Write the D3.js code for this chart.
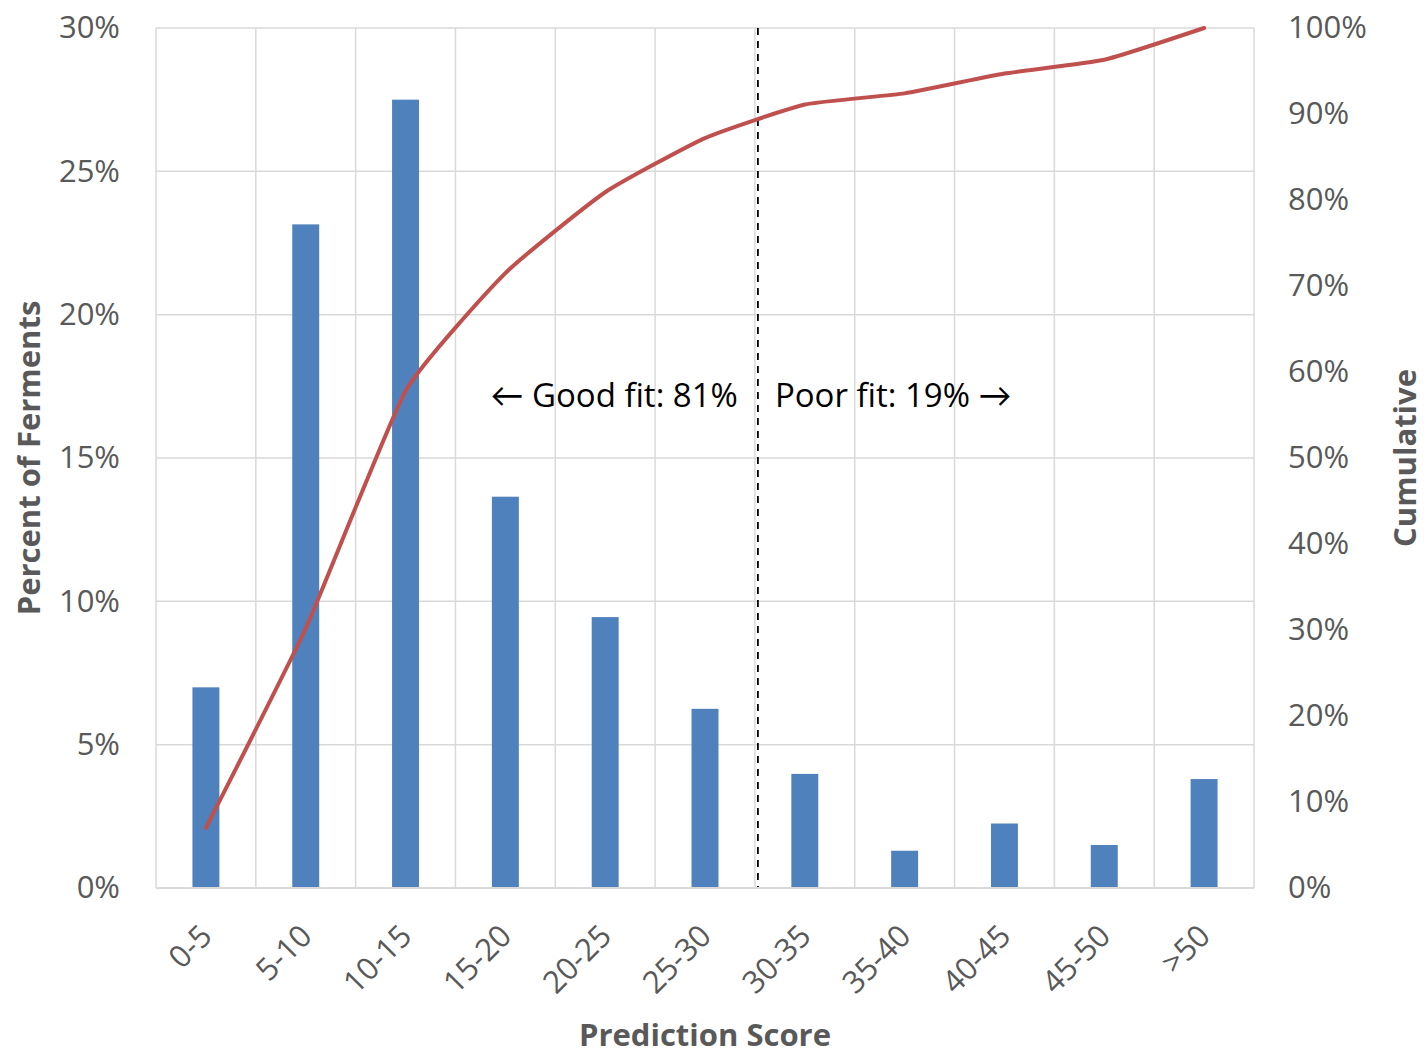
<!DOCTYPE html>
<html><head><meta charset="utf-8">
<script src="https://cdn.jsdelivr.net/npm/d3@7"></script>
<style>
body{margin:0;background:#fff}
text{font-family:"Open Sans",Lato,sans-serif}
</style>
</head><body>
<svg id="chart" width="1424" height="1054"></svg>
<script>
const categories = ["0-5","5-10","10-15","15-20","20-25","25-30","30-35","35-40","40-45","45-50",">50"];
const percentValues = [7.0, 23.15, 27.5, 13.65, 9.45, 6.25, 3.98, 1.3, 2.25, 1.5, 3.8];
const cumulativeValues = [7.0, 30.2, 57.8, 71.5, 80.9, 87.2, 91.1, 92.4, 94.7, 96.3, 100];
const leftTicks = [0, 5, 10, 15, 20, 25, 30];
const rightTicks = [0, 10, 20, 30, 40, 50, 60, 70, 80, 90, 100];
const goodFitLabel = "\u2190 Good fit: 81%";
const poorFitLabel = "Poor fit: 19% \u2192";
const cutoffCategory = "30-35";

const W = 1424, H = 1054;
const m = {top: 28, right: 170, bottom: 166, left: 156};
const svg = d3.select("#chart");
const iw = W - m.left - m.right, ih = H - m.top - m.bottom;
const FS = 31;
const FONT = "'Open Sans',Lato,sans-serif";

const x = d3.scaleBand().domain(categories).range([m.left, m.left + iw]).padding(0);
const yL = d3.scaleLinear().domain([0, 30]).range([m.top + ih, m.top]);
const yR = d3.scaleLinear().domain([0, 100]).range([m.top + ih, m.top]);
const step = x.step();
const grid = "#d9d9d9", textGray = "#595959";

// horizontal gridlines
svg.append("g").selectAll("line").data(leftTicks).join("line")
  .attr("x1", m.left).attr("x2", m.left + iw)
  .attr("y1", d => yL(d)).attr("y2", d => yL(d))
  .attr("stroke", grid).attr("stroke-width", 1.5);
// vertical gridlines at band boundaries
const bounds = categories.map(c => x(c)).concat([x(categories[categories.length-1]) + step]);
svg.append("g").selectAll("line").data(bounds).join("line")
  .attr("x1", d => d).attr("x2", d => d)
  .attr("y1", m.top).attr("y2", m.top + ih)
  .attr("stroke", grid).attr("stroke-width", 1.5);

// bars
const bw = step * 0.27;
svg.append("g").selectAll("rect").data(percentValues).join("rect")
  .attr("x", (d, i) => x(categories[i]) + step / 2 - bw / 2)
  .attr("width", bw)
  .attr("y", d => yL(d))
  .attr("height", d => yL(0) - yL(d))
  .attr("fill", "#4f81bd");

// cutoff dashed line
const cx = x(cutoffCategory) + step * 0.03;
svg.append("line").attr("x1", cx).attr("x2", cx)
  .attr("y1", m.top).attr("y2", m.top + ih)
  .attr("stroke", "#000").attr("stroke-width", 1.8).attr("stroke-dasharray", "7,6");

// cumulative line
const line = d3.line()
  .x((d, i) => x(categories[i]) + step / 2)
  .y(d => yR(d))
  .curve(d3.curveCardinal.tension(0.55));
svg.append("path").datum(cumulativeValues)
  .attr("d", line).attr("fill", "none")
  .attr("stroke", "#c0504d").attr("stroke-width", 4)
  .attr("stroke-linecap", "round").attr("stroke-linejoin", "round");

// axes
const fmt = d => d + "%";
const axL = svg.append("g").attr("transform", `translate(${m.left},0)`)
  .call(d3.axisLeft(yL).tickValues(leftTicks).tickFormat(fmt).tickSize(0).tickPadding(36));
const axR = svg.append("g").attr("transform", `translate(${m.left + iw},0)`)
  .call(d3.axisRight(yR).tickValues(rightTicks).tickFormat(fmt).tickSize(0).tickPadding(34));
[axL, axR].forEach(a => {
  a.select(".domain").remove();
  a.selectAll("text").attr("font-size", FS).attr("fill", textGray)
    .style("font-family", FONT);
});

// bottom axis line
svg.append("line").attr("x1", m.left).attr("x2", m.left + iw)
  .attr("y1", yL(0)).attr("y2", yL(0)).attr("stroke", grid).attr("stroke-width", 2);

// x tick labels
svg.append("g").selectAll("text").data(categories).join("text")
  .attr("transform", d => `translate(${x(d) + step / 2 + 8},${m.top + ih + 50}) rotate(-45)`)
  .attr("text-anchor", "end").attr("font-size", FS).attr("fill", textGray)
  .text(d => d);

// axis titles
svg.append("text").attr("transform", `translate(28,${m.top + ih / 2}) rotate(-90)`)
  .attr("text-anchor", "middle").attr("dominant-baseline", "central")
  .attr("font-size", FS).attr("font-weight", "bold").attr("fill", textGray)
  .text("Percent of Ferments");
svg.append("text").attr("transform", `translate(1404,${m.top + ih / 2}) rotate(-90)`)
  .attr("text-anchor", "middle").attr("dominant-baseline", "central")
  .attr("font-size", FS).attr("font-weight", "bold").attr("fill", textGray)
  .text("Cumulative");
svg.append("text").attr("x", 705).attr("y", 1034)
  .attr("text-anchor", "middle").attr("dominant-baseline", "central")
  .attr("font-size", FS).attr("font-weight", "bold").attr("fill", textGray)
  .text("Prediction Score");

// annotations
svg.append("text").attr("x", cx - 20).attr("y", 407).attr("text-anchor", "end")
  .attr("font-size", 33).attr("fill", "#000").text(goodFitLabel);
svg.append("text").attr("x", cx + 17).attr("y", 407).attr("text-anchor", "start")
  .attr("font-size", 33).attr("fill", "#000").text(poorFitLabel);
</script>
</body></html>
